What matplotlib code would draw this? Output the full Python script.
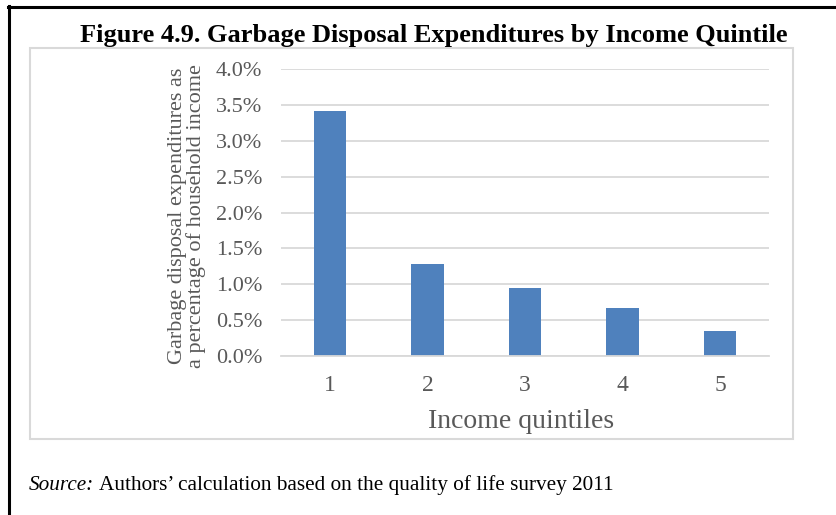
import matplotlib.pyplot as plt
from matplotlib.patches import Rectangle
from matplotlib.lines import Line2D

quintiles = ['1', '2', '3', '4', '5']
share = [3.41, 1.28, 0.95, 0.67, 0.35]  # % of household income
y_ticks = [0.0, 0.5, 1.0, 1.5, 2.0, 2.5, 3.0, 3.5, 4.0]

plt.rcParams['font.family'] = ['Liberation Serif', 'DejaVu Serif']

W, H = 836, 515
fig = plt.figure(figsize=(W / 100, H / 100), dpi=100)

def fx(x):
    return x / W

def fy(y):
    return 1 - y / H

# outer black frame (left and top only visible)
fig.add_artist(Line2D([fx(9), fx(9)], [fy(6), 0], color='black', lw=2.2))
fig.add_artist(Line2D([fx(8), 1], [fy(7), fy(7)], color='black', lw=2.2))

# light grey chart box
fig.add_artist(Rectangle((fx(30), fy(439)), fx(793) - fx(30), fy(48) - fy(439),
                         fill=False, edgecolor='#d9d9d9', lw=1.5))

fig.text(fx(434), fy(42), 'Figure 4.9. Garbage Disposal Expenditures by Income Quintile',
         ha='center', va='baseline', fontsize=19, fontweight='bold')

ax = fig.add_axes([fx(281), fy(356), fx(769) - fx(281), fy(69) - fy(356)])
ax.bar(range(len(quintiles)), share, width=0.33, color='#4F81BD')
ax.set_xlim(-0.5, len(quintiles) - 0.5)
ax.set_ylim(0, 4.0)
ax.set_yticks(y_ticks)
ax.set_yticklabels(['%.1f%%' % v for v in y_ticks])
ax.set_xticks(range(len(quintiles)))
ax.set_xticklabels(quintiles)
ax.grid(axis='y', color='#d9d9d9', lw=1.3)
ax.set_axisbelow(True)
for s in ['top', 'right', 'left']:
    ax.spines[s].set_visible(False)
ax.spines['bottom'].set_color('#d9d9d9')
ax.spines['bottom'].set_linewidth(1.3)
ax.tick_params(length=0, labelsize=16, colors='#595959')
ax.tick_params(axis='y', pad=13.5)
ax.tick_params(axis='x', pad=14, labelsize=17)

fig.text(fx(521), fy(422), 'Income quintiles', ha='center', va='center',
         fontsize=20, color='#595959')
fig.text(fx(187), fy(216), 'Garbage disposal expenditures as\na percentage of household income',
         rotation=90, ha='center', va='center', fontsize=16, color='#595959',
         linespacing=1.0)

src = fig.text(fx(29), fy(490), 'Source:', ha='left', va='baseline', fontsize=15.3, style='italic')
fig.canvas.draw()
bb = src.get_window_extent()
fig.text((bb.x1 + 5) / W, fy(490), 'Authors\u2019 calculation based on the quality of life survey 2011',
         ha='left', va='baseline', fontsize=15.3)

fig.savefig('out.png', dpi=100)
